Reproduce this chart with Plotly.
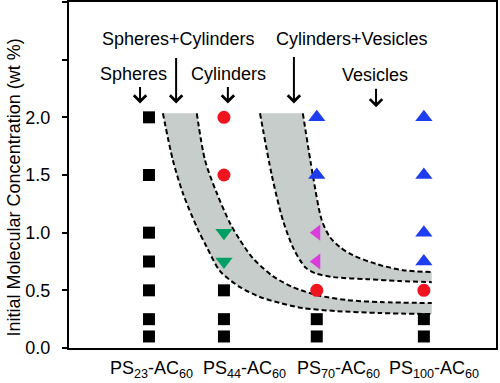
import plotly.graph_objects as go

FONT = "Arial, 'Liberation Sans', sans-serif"

# Categories (block copolymers) placed by PS chain length
chain_lengths = [23, 44, 70, 100]
category_labels = ["PS<sub>23</sub>-AC<sub>60</sub>", "PS<sub>44</sub>-AC<sub>60</sub>",
                   "PS<sub>70</sub>-AC<sub>60</sub>", "PS<sub>100</sub>-AC<sub>60</sub>"]
category_label_pos = [0.194, 0.412, 0.630, 0.855]  # paper x of label centres

# Morphology observations (x = PS length, y = concentration wt %)
spheres_x = [23, 23, 23, 23, 23, 23, 23, 44, 44, 44, 70, 70, 100, 100]
spheres_y = [2.0, 1.5, 1.0, 0.75, 0.5, 0.25, 0.1, 0.5, 0.25, 0.1, 0.25, 0.1, 0.25, 0.1]
cylinders_x = [44, 44, 70, 100]
cylinders_y = [2.0, 1.5, 0.5, 0.5]
sph_cyl_x = [44, 44]
sph_cyl_y = [1.0, 0.75]
cyl_ves_x = [70, 70]
cyl_ves_y = [1.0, 0.75]
vesicles_x = [70, 70, 100, 100, 100, 100]
vesicles_y = [2.0, 1.5, 2.0, 1.5, 1.0, 0.75]

# Mixed-phase band boundaries
band1_lower_x = [26.9, 29.7, 32.5, 36.4, 39.2, 42.9, 48.5, 54.1, 59.7, 66.1, 75.6, 87.7, 102.2]
band1_lower_y = [2.035, 1.628, 1.342, 1.048, 0.874, 0.667, 0.528, 0.442, 0.390, 0.346, 0.320, 0.303, 0.294]
band1_upper_x = [36.4, 38.7, 42.0, 45.7, 48.5, 52.1, 57.7, 63.3, 70.0, 78.4, 87.7, 102.2]
band1_upper_y = [2.035, 1.628, 1.342, 1.082, 0.935, 0.779, 0.623, 0.528, 0.459, 0.416, 0.398, 0.390]
band2_lower_x = [54.1, 57.4, 60.5, 63.3, 65.3, 67.0, 69.5, 74.5, 84.0, 93.3, 102.2]
band2_lower_y = [2.035, 1.498, 1.108, 0.874, 0.762, 0.693, 0.649, 0.615, 0.597, 0.580, 0.571]
band2_upper_x = [66.1, 68.9, 71.4, 73.7, 76.5, 80.1, 86.8, 94.1, 102.2]
band2_upper_y = [2.035, 1.498, 1.108, 0.961, 0.874, 0.805, 0.727, 0.675, 0.658]

# Region labels with arrows
region_labels = ["Spheres+Cylinders", "Spheres", "Cylinders", "Cylinders+Vesicles", "Vesicles"]
label_x = [31.25, 18.8, 45.25, 80.0, 86.3]
label_y = [2.675, 2.372, 2.372, 2.675, 2.368]
arrow_x = [30.6, 20.5, 45.1, 63.6, 86.6]
arrow_head_y = [2.121, 2.121, 2.121, 2.121, 2.087]
arrow_len_px = [47, 18, 18, 48, 20]

y_tickvals = [0, 0.5, 1.0, 1.5, 2.0, 2.5, 3.0]
y_ticktext = ["0.0", "0.5", "1.0", "1.5", "2.0", "", ""]

BAND_FILL = "#C6CDCA"
DASH = dict(color="black", width=2, dash="5px,3px", shape="spline", smoothing=0.8)

fig = go.Figure()

for lx, ly, ux, uy in [(band1_lower_x, band1_lower_y, band1_upper_x, band1_upper_y),
                       (band2_lower_x, band2_lower_y, band2_upper_x, band2_upper_y)]:
    fig.add_trace(go.Scatter(x=lx, y=ly, mode="lines", line=DASH, hoverinfo="skip"))
    fig.add_trace(go.Scatter(x=ux, y=uy, mode="lines", line=DASH, fill="tonexty",
                             fillcolor=BAND_FILL, hoverinfo="skip"))

fig.add_trace(go.Scatter(x=spheres_x, y=spheres_y, mode="markers",
                         marker=dict(symbol="square", size=12, color="black")))
fig.add_trace(go.Scatter(x=cylinders_x, y=cylinders_y, mode="markers",
                         marker=dict(symbol="circle", size=13, color="#F0141E")))
fig.add_trace(go.Scatter(x=sph_cyl_x, y=sph_cyl_y, mode="markers",
                         marker=dict(symbol="triangle-down", size=15, color="#00A064")))
fig.add_trace(go.Scatter(x=cyl_ves_x, y=cyl_ves_y, mode="markers",
                         marker=dict(symbol="triangle-left", size=14, color="#DC3CDC")))
fig.add_trace(go.Scatter(x=vesicles_x, y=vesicles_y, mode="markers",
                         marker=dict(symbol="triangle-up", size=15, color="#1E3CF0")))

annotations = []
for t, x, y in zip(region_labels, label_x, label_y):
    annotations.append(dict(x=x, y=y, xref="x", yref="y", text=t, showarrow=False,
                            font=dict(family=FONT, size=18, color="black"),
                            xanchor="center", yanchor="middle"))
for x, y, L in zip(arrow_x, arrow_head_y, arrow_len_px):
    annotations.append(dict(x=x, y=y, xref="x", yref="y", text="", showarrow=True,
                            ax=0, ay=-L, arrowhead=4, arrowsize=1.2, arrowwidth=2,
                            arrowcolor="black"))
for t, px in zip(category_labels, category_label_pos):
    annotations.append(dict(x=px, y=-0.062, xref="paper", yref="paper", text=t,
                            showarrow=False, font=dict(family=FONT, size=18, color="black"),
                            xanchor="center", yanchor="middle"))
annotations.append(dict(x=-0.128, y=0.465, xref="paper", yref="paper",
                        text="Initial Molecular Concentration (wt %)", textangle=-90,
                        showarrow=False, font=dict(family=FONT, size=18, color="black"),
                        xanchor="center", yanchor="middle"))

fig.update_layout(
    width=500, height=383,
    margin=dict(l=69, r=4, t=2, b=35),
    paper_bgcolor="white", plot_bgcolor="white",
    showlegend=False,
    font=dict(family=FONT, size=18, color="black"),
    annotations=annotations,
)
fig.update_xaxes(range=[0.6, 120.2], showticklabels=False, automargin=False,
                 showgrid=False, zeroline=False, showline=True, linecolor="black",
                 linewidth=2, mirror=True, ticks="")
fig.update_yaxes(range=[0, 3.0], tickvals=y_tickvals, ticktext=y_ticktext, automargin=False,
                 showgrid=False, zeroline=False, showline=True, linecolor="black",
                 linewidth=2, mirror=True, ticks="outside", ticklen=5, tickwidth=1.5,
                 tickcolor="black", ticklabelstandoff=8,
                 tickfont=dict(family=FONT, size=18, color="black"))

fig.write_html("out.html", config={"displayModeBar": False},
               post_script="document.body.style.margin='0';document.body.style.overflow='hidden';")
